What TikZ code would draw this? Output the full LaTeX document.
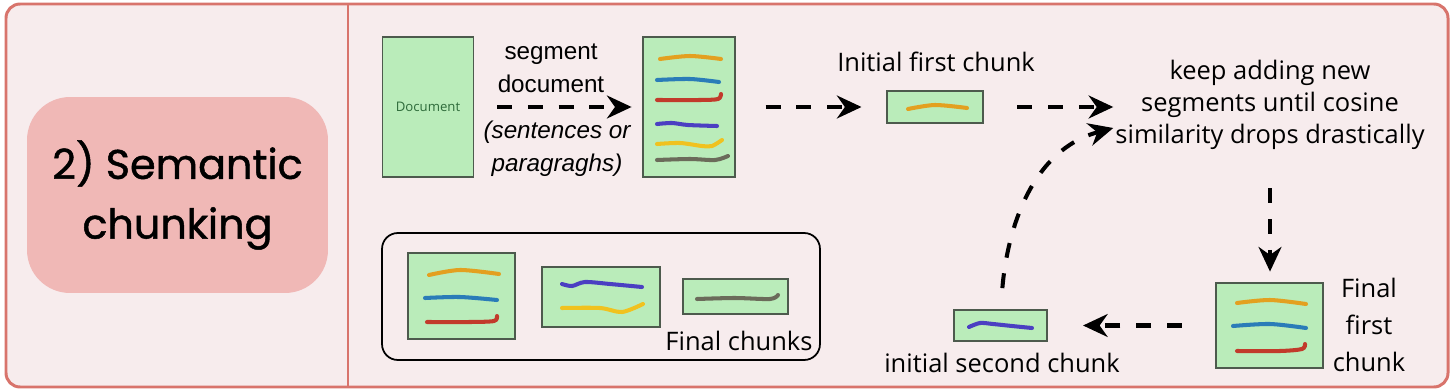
\documentclass[tikz,border=0pt]{standalone}
\usepackage{fontspec}
\usepackage{tikz}
\usetikzlibrary{arrows.meta}
\newfontfamily\titlefont[FakeBold=1.2]{Poppins}
\newfontfamily\comicfont{Open Sans}
\newfontfamily\plainfont{Liberation Sans}
\definecolor{framered}{HTML}{D8746C}
\definecolor{framefill}{HTML}{F7ECED}
\definecolor{pillfill}{HTML}{F0B8B6}
\definecolor{chunkfill}{HTML}{BAECBA}
\definecolor{chunkedge}{HTML}{4D5A4D}
\definecolor{docgreen}{HTML}{2E6B3A}
\definecolor{segorange}{HTML}{E3A020}
\definecolor{segblue}{HTML}{2A7CB8}
\definecolor{segred}{HTML}{C23A2B}
\definecolor{segpurple}{HTML}{4B3FC2}
\definecolor{segyellow}{HTML}{F0C21F}
\definecolor{seggrey}{HTML}{6B6B5A}
\tikzset{chunk/.style={draw=chunkedge, fill=chunkfill, line width=1pt, inner sep=0pt},
  flow/.style={line width=2.3pt, dash pattern=on 8.5pt off 9pt, -{Stealth[length=14pt,width=13pt]}},
  squiggle/.style={line width=2.3pt, line cap=round},
  comic/.style={font=\comicfont\fontsize{14.5}{18}\selectfont, align=center, inner sep=1pt}}

\begin{document}
\begin{tikzpicture}[x=0.02cm, y=-0.02cm]
		\useasboundingbox (0,0) rectangle (1454,392);

		% Frame and title
		\draw[draw=framered, fill=framefill, line width=1.7pt, rounded corners=8pt] (6,4) rectangle (1448,387);
		\draw[framered, line width=1.7pt] (348,4) -- (348,387);
		\node[fill=pillfill, rounded corners=0.86cm, minimum width=6.02cm, minimum height=3.92cm,
      align=center, font=\titlefont\fontsize{23.5}{34}\selectfont] (title) at (177.5,195) {2) Semantic\\chunking};

		% Document and segments
		\node[chunk, minimum width=1.82cm, minimum height=2.8cm] (doc) at (428,107)
      {\fontsize{7.5}{9}\selectfont\color{docgreen}\comicfont Document};
		\node[chunk, minimum width=1.84cm, minimum height=2.8cm] (seg) at (689,107) {};
		\draw[squiggle, segorange] plot[smooth] coordinates {(660,59) (690,56) (721,59)};
		\draw[squiggle, segblue] plot[smooth] coordinates {(657,80) (690,79) (719,82)};
		\draw[squiggle, segred] plot[smooth] coordinates {(657,100) (700,100) (718,99) (721,94)};
		\draw[squiggle, segpurple] plot[smooth] coordinates {(657,124) (672,123) (688,125) (717,126)};
		\draw[squiggle, segyellow] plot[smooth] coordinates {(657,144) (680,143) (702,146) (712,146) (722,140)};
		\draw[squiggle, seggrey] plot[smooth] coordinates {(657,160) (690,159) (715,160) (728,156)};

		\node[font=\plainfont\fontsize{13.8}{19}\selectfont, align=center] (seglabel) at (551,68) {segment\\document};
		\node[font=\plainfont\itshape\fontsize{13.8}{19}\selectfont, align=center] (segnote) at (557,149) {(sentences or\\paragraghs)};

		% Initial first chunk
		\node[chunk, minimum width=1.92cm, minimum height=0.64cm] (init1) at (935,107) {};
		\draw[squiggle, segorange] plot[smooth] coordinates {(908,109) (935,105) (967,108)};
		\node[comic] (init1label) at (936,62) {Initial first chunk};

		\node[comic] (keep) at (1270,105) {keep adding new\\segments until cosine\\similarity drops drastically};

		% Final first chunk
		\node[chunk, minimum width=2.14cm, minimum height=1.7cm] (final1) at (1269.5,325.5) {};
		\draw[squiggle, segorange] plot[smooth] coordinates {(1237,303) (1270,300) (1306,304)};
		\draw[squiggle, segblue] plot[smooth] coordinates {(1233,326) (1270,324) (1306,328)};
		\draw[squiggle, segred] plot[smooth] coordinates {(1237,351) (1280,351) (1302,349) (1305,344)};
		\node[comic, font=\comicfont\fontsize{14.5}{21}\selectfont] (final1label) at (1369,325) {Final\\first\\chunk};

		% Initial second chunk
		\node[chunk, minimum width=1.86cm, minimum height=0.62cm] (init2) at (1000.5,325.5) {};
		\draw[squiggle, segpurple] plot[smooth] coordinates {(969,327) (980,323) (993,324) (1012,326) (1032,328)};
		\node[comic] (init2label) at (1002,363) {initial second chunk};

		% Final chunks
		\node[draw, line width=1pt, rounded corners=9pt, minimum width=8.76cm, minimum height=2.54cm] (allchunks) at (601,296.5) {};
		\node[chunk, minimum width=2.14cm, minimum height=1.72cm] (box1) at (461.5,296) {};
		\draw[squiggle, segorange] plot[smooth] coordinates {(429,275) (460,270) (499,274)};
		\draw[squiggle, segblue] plot[smooth] coordinates {(425,298) (460,297) (497,300)};
		\draw[squiggle, segred] plot[smooth] coordinates {(427,322) (470,322) (494,321) (497,316)};
		\node[chunk, minimum width=2.36cm, minimum height=1.2cm] (box2) at (601,297) {};
		\draw[squiggle, segpurple] plot[smooth] coordinates {(562,284) (572,286) (585,282) (610,284) (642,287)};
		\draw[squiggle, segyellow] plot[smooth] coordinates {(562,308) (600,308) (622,312) (643,304)};
		\node[chunk, minimum width=2.1cm, minimum height=0.7cm] (box3) at (735.5,296.5) {};
		\draw[squiggle, seggrey] plot[smooth] coordinates {(697,299) (735,298) (770,299) (778,295)};
		\node[comic] (finallabel) at (739,341) {Final chunks};

		% Arrows
		\draw[flow, shorten <=13pt, shorten >=6pt] (doc) -- (seg);
		\draw[flow, shorten <=17pt, shorten >=14pt] (seg) -- (init1);
		\draw[flow, shorten <=19pt] (init1.east) -- (init1.east -| keep.west);
		\draw[flow, shorten <=21pt, shorten >=6pt] (keep.south) -- (keep.south |- final1.north);
		\draw[flow, shorten <=19pt, shorten >=20pt] (final1) -- (init2);
		\draw[flow, shorten <=12pt] (init2.north) to[out=85, in=195] ([yshift=-0.46cm]keep.west);

	\end{tikzpicture}
\end{document}
